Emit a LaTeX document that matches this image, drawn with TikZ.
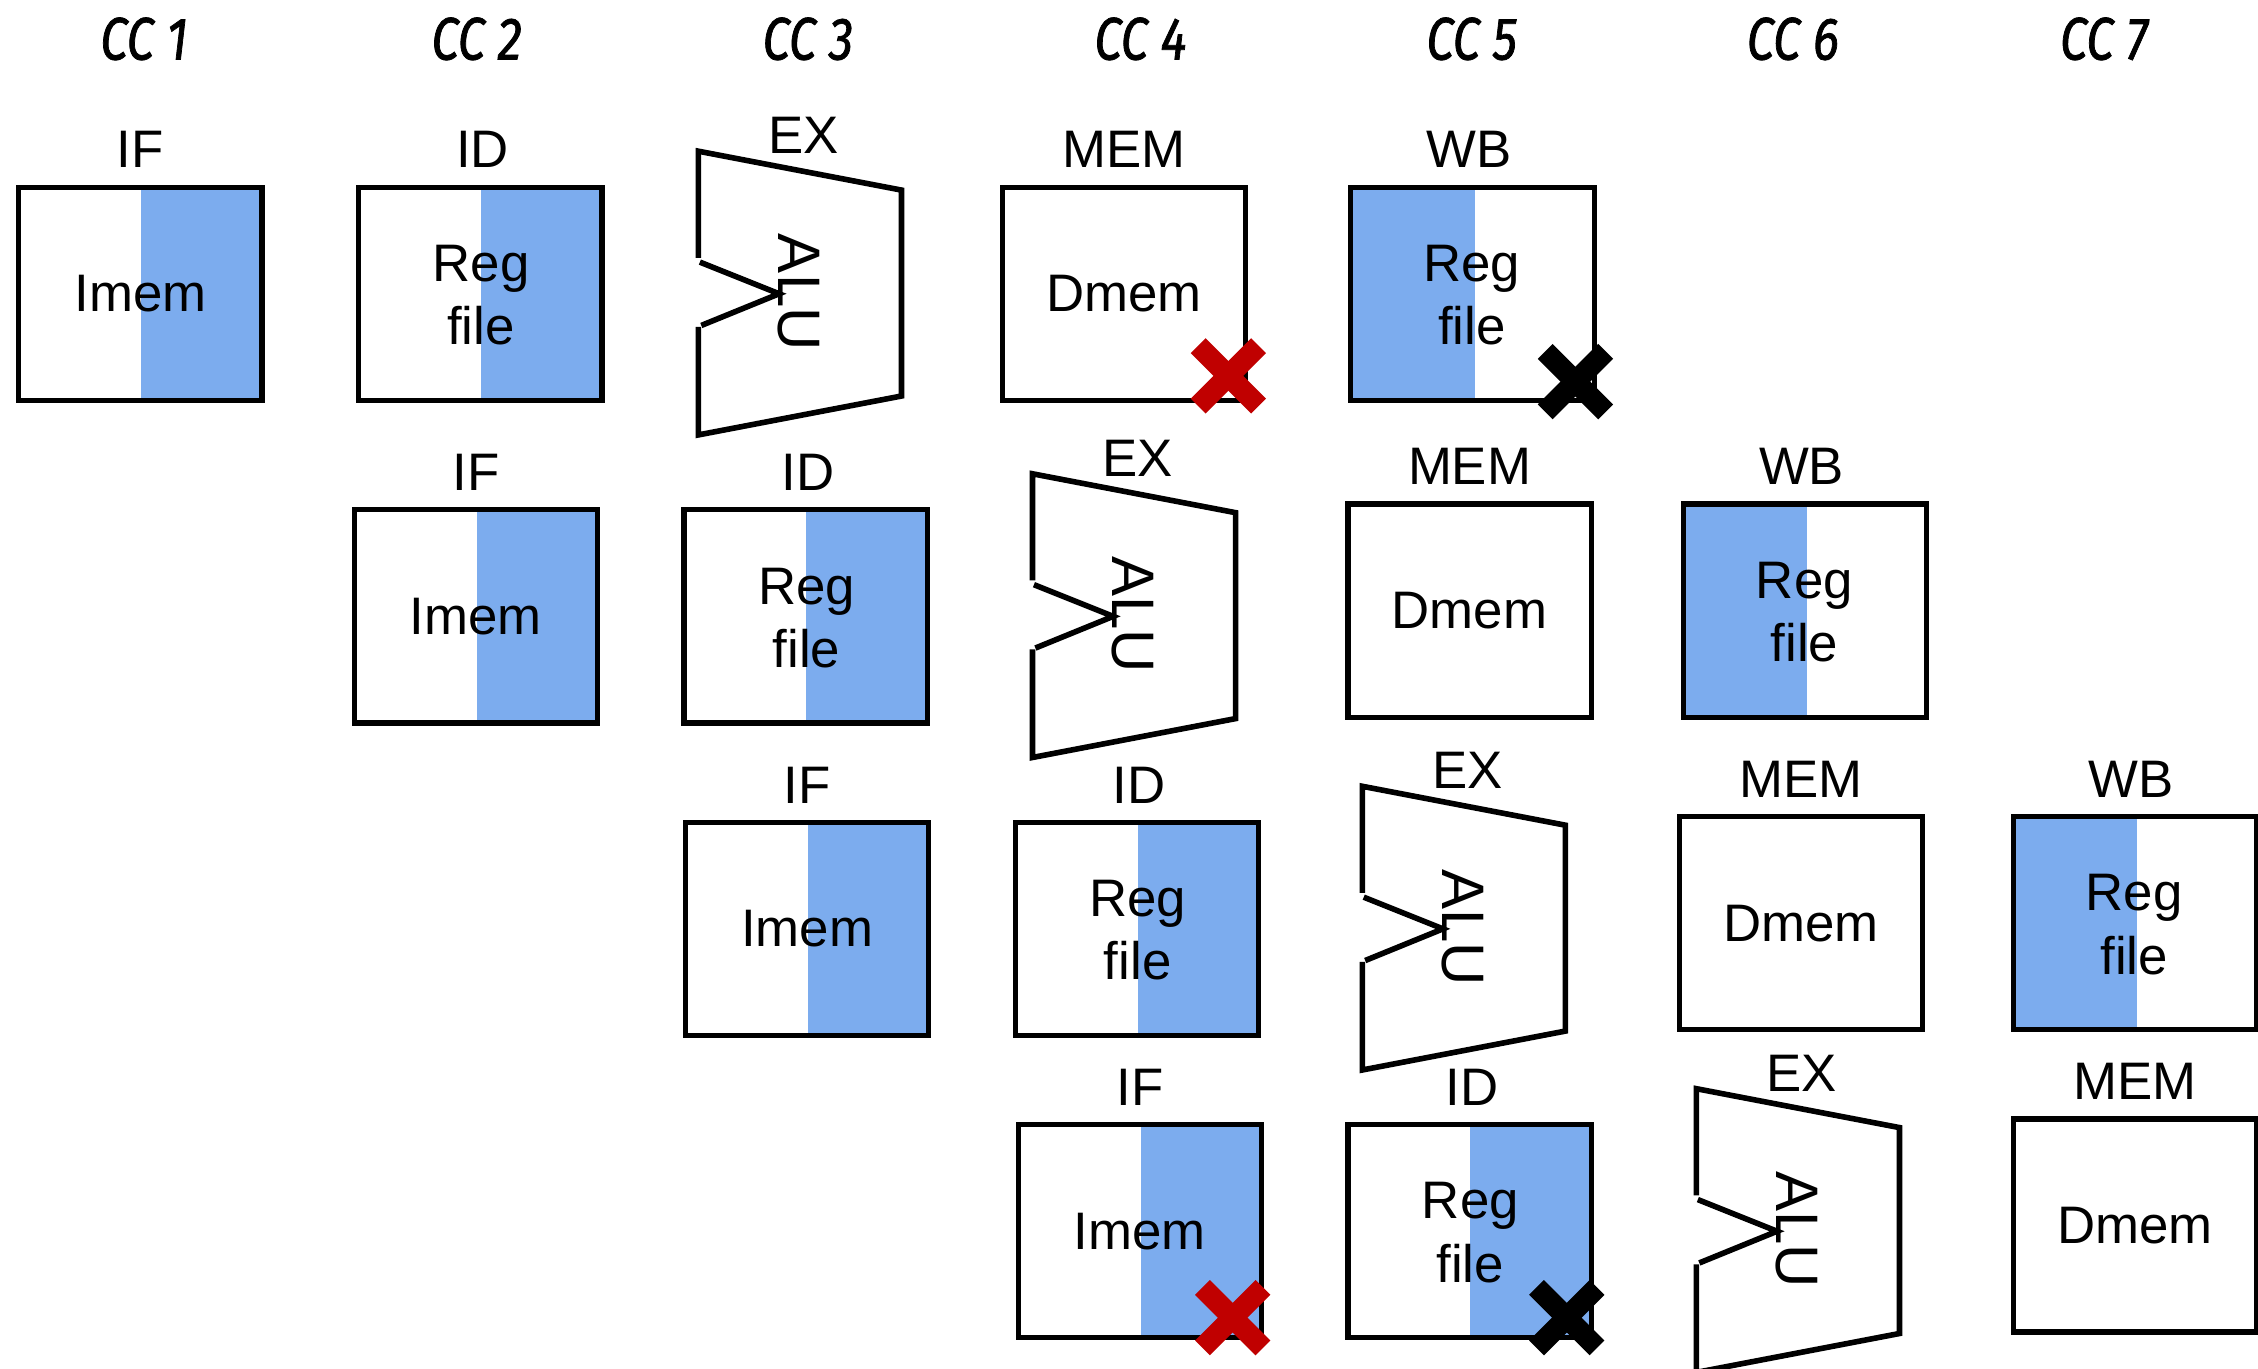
\documentclass[tikz,border=0pt]{standalone}
\usepackage{fontspec}
\setmainfont{Liberation Sans}
\newfontfamily\ccfont[FakeStretch=0.82,FakeBold=1.2]{Fira Sans}
\definecolor{stageblue}{RGB}{124,172,238}
\definecolor{xred}{RGB}{192,0,0}
\tikzset{
  boxline/.style={draw=black,line width=2.6pt},
  aluline/.style={draw=black,line width=2.8pt,line join=miter},
  lbl/.style={inner sep=0pt,font=\fontsize{26.4}{31.7}\selectfont,align=center},
  alulbl/.style={inner sep=0pt,font=\fontsize{30}{36}\selectfont,rotate=-90},
  cclbl/.style={inner sep=0pt,font=\ccfont\itshape\fontsize{30}{36}\selectfont},
  xmark/.style={line width=10.5pt,line cap=butt},
}
% #1 name, #2 left x, #3 top y
\newcommand\IFbox[3]{%
  \fill[stageblue] (#2+85,#3) rectangle (#2+169,#3+148);
  \draw[boxline] (#2,#3) rectangle (#2+169,#3+148);
  \node[lbl] (#1) at (#2+84.5,#3+74) {Imem};
  \node[lbl] (#1s) at (#2+84.5,#3-26) {IF};
}
\newcommand\IDbox[3]{%
  \fill[stageblue] (#2+85,#3) rectangle (#2+169,#3+148);
  \draw[boxline] (#2,#3) rectangle (#2+169,#3+148);
  \node[lbl] (#1) at (#2+85,#3+75) {Reg\\file};
  \node[lbl] (#1s) at (#2+86,#3-26) {ID};
}
\newcommand\WBbox[3]{%
  \fill[stageblue] (#2,#3) rectangle (#2+86,#3+148);
  \draw[boxline] (#2,#3) rectangle (#2+169,#3+148);
  \node[lbl] (#1) at (#2+84,#3+75) {Reg\\file};
  \node[lbl] (#1s) at (#2+82,#3-26) {WB};
}
\newcommand\MEMbox[3]{%
  \draw[boxline] (#2,#3) rectangle (#2+169,#3+148);
  \node[lbl] (#1) at (#2+84.5,#3+74) {Dmem};
  \node[lbl] (#1s) at (#2+84.5,#3-26) {MEM};
}
\newcommand\ALUbox[3]{%
  \draw[aluline] (#2,#3+74) -- (#2,#3) -- (#2+141,#3+27) -- (#2+141,#3+170) -- (#2,#3+197) -- (#2,#3+122);
  \draw[aluline] (#2+1,#3+77) -- (#2+56,#3+99) -- (#2+2,#3+121);
  \node[alulbl] (#1) at (#2+70,#3+98) {ALU};
  \node[lbl] (#1s) at (#2+73,#3-11) {EX};
}
\newcommand\Xmark[4]{% name, cx, cy, colour
  \coordinate (#1) at (#2,#3);
  \draw[xmark,#4] (#2-21,#3-21) -- (#2+21,#3+21);
  \draw[xmark,#4] (#2-21,#3+21) -- (#2+21,#3-21);
}
\begin{document}
\begin{tikzpicture}[x=0.72pt,y=-0.72pt]
\useasboundingbox (0,0) rectangle (1568,950);
\fill[white] (0,0) rectangle (1568,950);
\begin{scope}
\clip (0,0) rectangle (1568,950);
% clock cycle labels
\node[cclbl] (cc1) at (100,27) {CC 1};
\node[cclbl] (cc2) at (331,27) {CC 2};
\node[cclbl] (cc3) at (561,27) {CC 3};
\node[cclbl] (cc4) at (792,27) {CC 4};
\node[cclbl] (cc5) at (1022,27) {CC 5};
\node[cclbl] (cc6) at (1245,27) {CC 6};
\node[cclbl] (cc7) at (1461,27) {CC 7};
% instruction 1
\IFbox{ia}{13}{130}
\IDbox{ib}{249}{130}
\ALUbox{ic}{485}{105}
\MEMbox{id}{696}{130}
\WBbox{ie}{938}{130}
% instruction 2
\IFbox{ja}{246}{354}
\IDbox{jb}{475}{354}
\ALUbox{jc}{717}{329}
\MEMbox{jd}{936}{350}
\WBbox{je}{1169}{350}
% instruction 3
\IFbox{ka}{476}{571}
\IDbox{kb}{705}{571}
\ALUbox{kc}{946}{546}
\MEMbox{kd}{1166}{567}
\WBbox{ke}{1398}{567}
% instruction 4
\IFbox{la}{707}{781}
\IDbox{lb}{936}{781}
\ALUbox{lc}{1178}{756}
\MEMbox{ld}{1398}{777}
% conflict marks
\Xmark{x1}{853}{261}{xred}
\Xmark{x2}{1094}{265}{black}
\Xmark{x3}{856}{915}{xred}
\Xmark{x4}{1088}{915}{black}
\end{scope}
\end{tikzpicture}
\end{document}
